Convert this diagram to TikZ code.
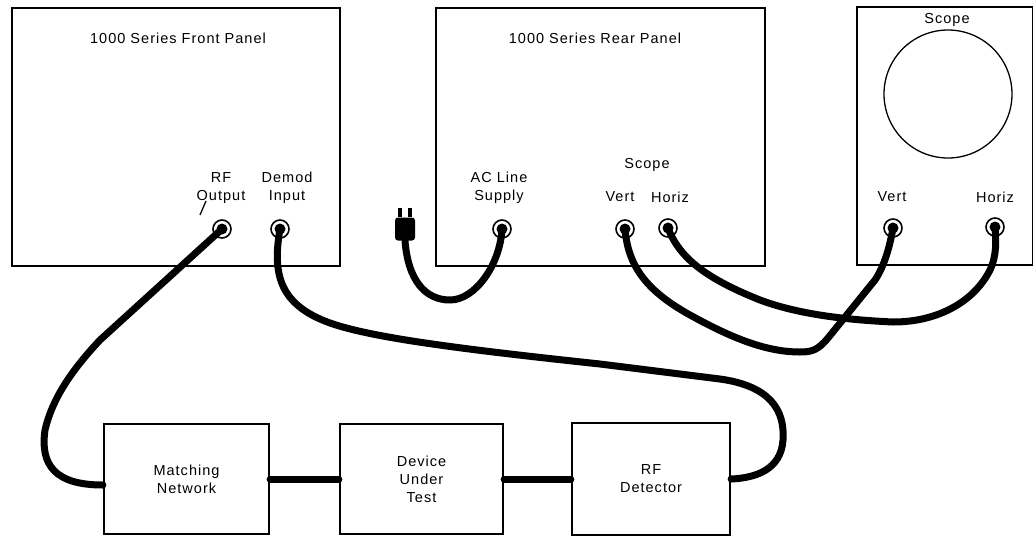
\documentclass[tikz,border=0pt]{standalone}
\usepackage{fontspec}
\setmainfont[LetterSpace=7]{Liberation Sans}
\usepackage{tikz}
\usetikzlibrary{arrows.meta,shapes}

\begin{document}
\begin{tikzpicture}[x=1pt,y=-1pt,
  panel/.style={draw,line width=2.2pt,inner sep=0pt},
  block/.style={draw,line width=2.2pt,inner sep=0pt,align=center,minimum height=110pt,
    font=\fontsize{14.5}{18}\selectfont},
  jack/.style={circle,draw,line width=1.6pt,minimum size=18pt,inner sep=0pt},
  cable/.style={line width=7pt,line cap=round},
  lbl/.style={align=center,font=\fontsize{14.5}{18}\selectfont}]
\useasboundingbox(0,0)rectangle(1033,536);
\node[panel,minimum width=328pt,minimum height=258pt](front)at(176,137){};
\node[panel,minimum width=329pt,minimum height=258pt](rear)at(600.5,137){};
\node[panel,minimum width=176pt,minimum height=258pt](scope)at(945,136){};
\node[lbl](fronttitle)at(178,38){1000 Series Front Panel};
\node[lbl](reartitle)at(595,38){1000 Series Rear Panel};
\node[lbl](scopetitle)at(947,20){Scope};
\draw[line width=1.3pt](948,94)circle(64);
\node[lbl](rflbl)at(221,188){RF\\Output};
\node[lbl](demodlbl)at(287,188){Demod\\Input};
\node[lbl](aclbl)at(499,188){AC Line\\Supply};
\node[lbl](rscopelbl)at(647,165){Scope};
\node[lbl](rvertlbl)at(620,197){Vert};
\node[lbl](rhorizlbl)at(670,197){Horiz};
\node[lbl](svertlbl)at(892,197){Vert};
\node[lbl](shorizlbl)at(995,197){Horiz};
\draw[line width=1.3pt](200,215)--(206,201);
\node[jack](rfout)at(222,229){};
\node[jack](demin)at(280,229){};
\node[jack](acin)at(502,229){};
\node[jack](rvert)at(625,229){};
\node[jack](rhoriz)at(668,228){};
\node[jack](svert)at(893,228){};
\node[jack](shoriz)at(995,227){};
\node[fill,rounded corners=3pt,minimum width=20pt,minimum height=23pt,inner sep=0pt](plug)at(405,229){};
\fill([xshift=-7pt]plug.north)rectangle++(4,-9);
\fill([xshift=3pt]plug.north)rectangle++(4,-9);
\node[block,minimum width=165pt](mn)at(186.5,479){Matching\\Network};
\node[block,minimum width=163pt](dut)at(421.5,479){Device\\Under\\Test};
\node[block,minimum width=158pt,minimum height=112pt](rfd)at(651,479){RF\\Detector};
\draw[cable](mn.east)--(dut.west);
\draw[cable](dut.east)--(rfd.west);
\draw[cable](rfout.center)--(100,340)..controls(70,372)and(52,400)..(45,430)
  ..controls(40,465)and(55,485)..([yshift=-6pt]mn.west);
\draw[cable](demin.center)..controls(272,275)and(280,305)..(330,323)
  ..controls(370,337)and(450,348)..(600,364)--(720,379)
  ..controls(770,386)and(785,410)..(783,440)..controls(781,470)and(755,478)..(rfd.east);
\draw[cable](plug.south)..controls(408,280)and(425,300)..(450,300)
  ..controls(475,300)and(500,265)..(acin.center);
\draw[cable](rhoriz.center)..controls(680,260)and(710,280)..(760,300)
  ..controls(800,315)and(850,320)..(893,322)..controls(940,322)and(975,300)..(990,270)
  ..controls(997,255)and(996,240)..(shoriz.center);
\draw[cable](rvert.center)..controls(628,265)and(645,290)..(690,315)
  ..controls(730,337)and(765,352)..(800,352)..controls(812,352)and(818,350)..(828,338)
  --(875,280)..controls(885,265)and(890,245)..(svert.center);
\foreach \j in {rfout,demin,acin,rvert,rhoriz,svert,shoriz}
  \fill(\j.center)circle(5.5);
\end{tikzpicture}
\end{document}
